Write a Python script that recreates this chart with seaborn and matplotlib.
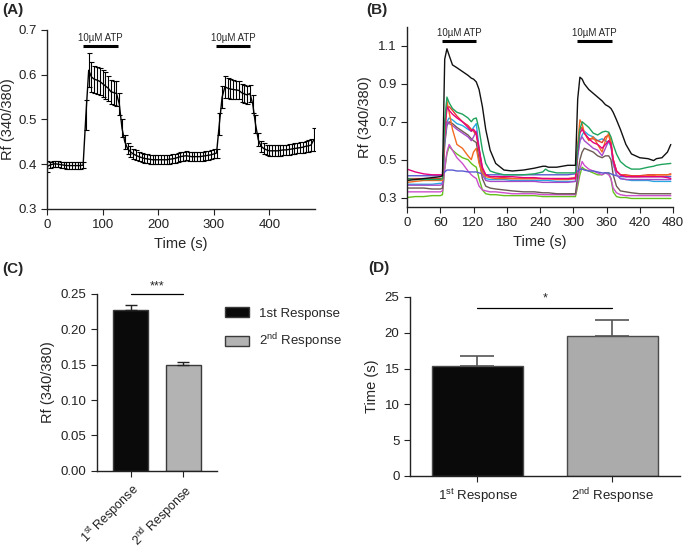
"""
Calcium imaging summary figure (Fura-2 ratio, two ATP applications)

A: mean +/- SEM ratio trace
B: single-cell traces
C: response amplitude (1st vs 2nd)
D: time to peak (1st vs 2nd)
"""

import numpy as np
import pandas as pd
import seaborn as sns
import matplotlib.pyplot as plt
from matplotlib.patches import Patch


# ---------------------------------------------------------------------
# Data
# ---------------------------------------------------------------------
# (A) mean trace, sampled every 5 s
time_a = np.arange(0, 481, 5)
mean_a = [
    0.395, 0.398, 0.400, 0.401, 0.400, 0.399, 0.398, 0.397, 0.397, 0.397,  # 0-45
    0.397, 0.397, 0.397, 0.398, 0.510, 0.610, 0.595, 0.590, 0.588, 0.585,  # 50-95
    0.580, 0.575, 0.570, 0.562, 0.560, 0.558, 0.535, 0.480, 0.450, 0.435,  # 100-145
    0.428, 0.423, 0.420, 0.417, 0.415, 0.413, 0.412, 0.411, 0.410, 0.410,  # 150-195
    0.410, 0.410, 0.410, 0.410, 0.411, 0.412, 0.413, 0.415, 0.417, 0.418,  # 200-245
    0.419, 0.418, 0.417, 0.417, 0.417, 0.417, 0.418, 0.419, 0.420, 0.421,  # 250-295
    0.423, 0.425, 0.490, 0.550, 0.573, 0.570, 0.568, 0.567, 0.566, 0.565,  # 300-345
    0.560, 0.557, 0.555, 0.558, 0.535, 0.490, 0.455, 0.440, 0.435, 0.432,  # 350-395
    0.430, 0.430, 0.430, 0.430, 0.431, 0.432, 0.432, 0.433, 0.434, 0.435,  # 400-445
    0.436, 0.437, 0.438, 0.440, 0.441, 0.443, 0.455,                       # 450-480
]
sem_a = [
    0.012, 0.007, 0.007, 0.007, 0.007, 0.007, 0.007, 0.007, 0.007, 0.007,
    0.007, 0.007, 0.007, 0.007, 0.033, 0.038, 0.033, 0.030, 0.030, 0.030,
    0.030, 0.030, 0.028, 0.027, 0.027, 0.027, 0.025, 0.020, 0.015, 0.013,
    0.012, 0.011, 0.011, 0.010, 0.010, 0.010, 0.010, 0.010, 0.010, 0.010,
    0.010, 0.010, 0.010, 0.010, 0.010, 0.010, 0.010, 0.010, 0.010, 0.010,
    0.010, 0.010, 0.010, 0.010, 0.010, 0.010, 0.010, 0.010, 0.010, 0.010,
    0.010, 0.010, 0.025, 0.025, 0.025, 0.022, 0.022, 0.022, 0.020, 0.020,
    0.020, 0.020, 0.020, 0.020, 0.020, 0.020, 0.015, 0.012, 0.012, 0.012,
    0.012, 0.012, 0.012, 0.012, 0.012, 0.012, 0.012, 0.012, 0.012, 0.012,
    0.012, 0.012, 0.012, 0.012, 0.013, 0.013, 0.025,
]

# ATP application windows (s)
atp_a = [(65, 127), (304, 365)]
atp_b = [(63, 125), (307, 369)]

# (B) single cells
time_b = [
    0, 15, 30, 45, 60,
    64, 68, 72, 76, 82, 90, 100, 110, 116, 120, 125,
    130, 136, 142, 150, 160, 175,
    190, 210, 230, 245, 250, 255, 270, 290, 304,
    308, 312, 316, 320, 328, 336, 344, 352, 358, 364, 368,
    372, 378, 385, 395, 405,
    420, 435, 445, 450, 460, 470, 476,
]
cell_black = [
    0.39, 0.395, 0.40, 0.405, 0.41,
    0.415, 1.03, 1.085, 1.05, 1.0, 0.985, 0.965, 0.945, 0.93, 0.925, 0.91,
    0.87, 0.78, 0.66, 0.55, 0.48, 0.445,
    0.44, 0.445, 0.455, 0.465, 0.465, 0.46, 0.46, 0.47, 0.47,
    0.82, 0.935, 0.925, 0.90, 0.87, 0.85, 0.83, 0.81, 0.79, 0.78, 0.77,
    0.75, 0.71, 0.66, 0.58, 0.53,
    0.51, 0.505, 0.495, 0.505, 0.51, 0.54, 0.58,
]
cell_green = [
    0.40, 0.395, 0.395, 0.395, 0.395,
    0.40, 0.70, 0.83, 0.80, 0.77, 0.75, 0.74, 0.72, 0.70, 0.715, 0.72,
    0.66, 0.55, 0.48, 0.44, 0.43, 0.42,
    0.42, 0.42, 0.425, 0.435, 0.45, 0.44, 0.43, 0.43, 0.43,
    0.56, 0.66, 0.70, 0.69, 0.67, 0.64, 0.63, 0.645, 0.65, 0.645, 0.62,
    0.58, 0.53, 0.49, 0.465, 0.45,
    0.45, 0.46, 0.465, 0.47, 0.475, 0.478, 0.48,
]
cell_orange = [
    0.38, 0.385, 0.39, 0.39, 0.39,
    0.39, 0.65, 0.81, 0.75, 0.66, 0.58, 0.56, 0.52, 0.50, 0.54, 0.56,
    0.48, 0.43, 0.41, 0.405, 0.40, 0.40,
    0.40, 0.40, 0.40, 0.40, 0.40, 0.40, 0.395, 0.395, 0.40,
    0.58, 0.71, 0.69, 0.64, 0.60, 0.62, 0.58, 0.54, 0.60, 0.64, 0.60,
    0.50, 0.44, 0.42, 0.415, 0.41,
    0.41, 0.415, 0.415, 0.42, 0.42, 0.42, 0.42,
]
cell_pink = [
    0.45, 0.435, 0.425, 0.42, 0.42,
    0.42, 0.66, 0.78, 0.76, 0.74, 0.72, 0.70, 0.67, 0.65, 0.66, 0.64,
    0.56, 0.46, 0.42, 0.41, 0.41, 0.41,
    0.41, 0.405, 0.405, 0.40, 0.40, 0.40, 0.40, 0.40, 0.40,
    0.55, 0.64, 0.66, 0.64, 0.61, 0.59, 0.58, 0.56, 0.58, 0.60, 0.58,
    0.50, 0.44, 0.42, 0.41, 0.41,
    0.41, 0.41, 0.41, 0.41, 0.41, 0.405, 0.40,
]
cell_cyan = [
    0.37, 0.37, 0.37, 0.37, 0.375,
    0.375, 0.60, 0.70, 0.72, 0.71, 0.69, 0.68, 0.66, 0.65, 0.67, 0.69,
    0.56, 0.44, 0.40, 0.395, 0.395, 0.395,
    0.39, 0.39, 0.39, 0.39, 0.39, 0.39, 0.385, 0.385, 0.385,
    0.52, 0.60, 0.63, 0.65, 0.63, 0.62, 0.60, 0.61, 0.60, 0.59, 0.57,
    0.48, 0.42, 0.40, 0.395, 0.39,
    0.39, 0.39, 0.385, 0.385, 0.385, 0.385, 0.385,
]
cell_brown = [
    0.35, 0.35, 0.35, 0.345, 0.345,
    0.35, 0.58, 0.68, 0.70, 0.69, 0.67, 0.65, 0.63, 0.61, 0.60, 0.59,
    0.50, 0.40, 0.36, 0.35, 0.345, 0.34,
    0.335, 0.33, 0.33, 0.325, 0.325, 0.325, 0.32, 0.32, 0.32,
    0.42, 0.50, 0.54, 0.56, 0.55, 0.54, 0.52, 0.51, 0.52, 0.52, 0.50,
    0.42, 0.36, 0.335, 0.33, 0.325,
    0.32, 0.32, 0.32, 0.32, 0.32, 0.32, 0.32,
]
cell_purple = [
    0.365, 0.365, 0.365, 0.365, 0.365,
    0.37, 0.60, 0.70, 0.69, 0.68, 0.66, 0.64, 0.62, 0.60, 0.62, 0.65,
    0.54, 0.42, 0.39, 0.385, 0.385, 0.385,
    0.385, 0.385, 0.385, 0.38, 0.38, 0.38, 0.38, 0.38, 0.385,
    0.52, 0.60, 0.62, 0.60, 0.58, 0.56, 0.55, 0.52, 0.56, 0.60, 0.59,
    0.48, 0.42, 0.40, 0.395, 0.395,
    0.395, 0.395, 0.395, 0.395, 0.395, 0.395, 0.395,
]
cell_violet = [
    0.33, 0.33, 0.33, 0.33, 0.33,
    0.335, 0.45, 0.54, 0.58, 0.55, 0.51, 0.48, 0.44, 0.42, 0.41, 0.40,
    0.36, 0.34, 0.335, 0.33, 0.33, 0.325,
    0.32, 0.32, 0.32, 0.315, 0.315, 0.315, 0.315, 0.315, 0.315,
    0.38, 0.45, 0.49, 0.47, 0.45, 0.44, 0.43, 0.42, 0.43, 0.42, 0.40,
    0.35, 0.325, 0.315, 0.31, 0.31,
    0.31, 0.31, 0.31, 0.31, 0.31, 0.31, 0.31,
]
cell_lime = [
    0.30, 0.305, 0.305, 0.31, 0.31,
    0.315, 0.45, 0.53, 0.57, 0.55, 0.53, 0.51, 0.50, 0.48, 0.47, 0.46,
    0.40, 0.34, 0.32, 0.315, 0.315, 0.31,
    0.31, 0.31, 0.31, 0.305, 0.305, 0.305, 0.305, 0.305, 0.305,
    0.36, 0.42, 0.46, 0.45, 0.44, 0.43, 0.42, 0.42, 0.43, 0.43, 0.40,
    0.33, 0.305, 0.30, 0.30, 0.295,
    0.295, 0.295, 0.295, 0.295, 0.295, 0.295, 0.295,
]
cell_indigo = [
    0.415, 0.415, 0.415, 0.415, 0.415,
    0.42, 0.435, 0.445, 0.445, 0.445, 0.44, 0.44, 0.435, 0.435, 0.435, 0.435,
    0.43, 0.425, 0.42, 0.42, 0.42, 0.42,
    0.42, 0.42, 0.42, 0.42, 0.42, 0.42, 0.42, 0.42, 0.425,
    0.44, 0.45, 0.45, 0.445, 0.44, 0.44, 0.435, 0.43, 0.43, 0.43, 0.425,
    0.42, 0.415, 0.41, 0.41, 0.41,
    0.41, 0.41, 0.41, 0.41, 0.41, 0.41, 0.41,
]
cell_red = [
    0.40, 0.40, 0.40, 0.40, 0.40,
    0.40, 0.65, 0.77, 0.78, 0.76, 0.73, 0.70, 0.68, 0.66, 0.65, 0.63,
    0.55, 0.45, 0.42, 0.41, 0.41, 0.405,
    0.40, 0.40, 0.40, 0.40, 0.40, 0.40, 0.40, 0.40, 0.405,
    0.56, 0.66, 0.67, 0.64, 0.61, 0.61, 0.60, 0.59, 0.62, 0.63, 0.58,
    0.50, 0.44, 0.42, 0.42, 0.415,
    0.415, 0.42, 0.42, 0.42, 0.42, 0.42, 0.425,
]

# (C) amplitude and (D) time to peak
responses = ["1st Response", "2nd Response"]
amp_mean = [0.227, 0.149]
amp_sem = [0.007, 0.0055]
ttp_mean = [15.3, 19.5]
ttp_sem = [1.45, 2.33]

CELL_COLORS = {
    "black": "#111111", "green": "#1fa35c", "orange": "#f26a21",
    "pink": "#e6007e", "cyan": "#27a9e1", "brown": "#6b5a52",
    "purple": "#a64ac9", "violet": "#cc4fcc", "lime": "#63c11c",
    "indigo": "#5a5ad2", "red": "#e53a2e",
}
BAR_COLORS = ["#0a0a0a", "#b3b3b3"]


# ---------------------------------------------------------------------
# Style
# ---------------------------------------------------------------------
sns.set_style("ticks")
plt.rcParams.update({
    "font.family": ["Liberation Sans", "DejaVu Sans"],
    "mathtext.fontset": "custom",
    "mathtext.rm": "Liberation Sans",
    "mathtext.it": "Liberation Sans:italic",
    "font.size": 9.5,
    "axes.labelsize": 10.5,
    "xtick.labelsize": 9.5,
    "ytick.labelsize": 9.5,
    "axes.linewidth": 1.0,
    "axes.edgecolor": "#222222",
    "xtick.color": "#222222",
    "ytick.color": "#222222",
    "xtick.major.size": 4,
    "ytick.major.size": 4,
})


def add_atp_bars(ax, windows, y_bar, y_text):
    for start, stop in windows:
        ax.plot([start, stop], [y_bar, y_bar], color="black", lw=2.2,
                solid_capstyle="butt", clip_on=False)
        ax.text((start + stop) / 2, y_text, "10\u00b5M ATP", ha="center",
                va="bottom", fontsize=7)


def despine(ax):
    sns.despine(ax=ax)


fig = plt.figure(figsize=(6.85, 5.52), dpi=100)
ax_a = fig.add_axes([0.0686, 0.6214, 0.3912, 0.3243])
ax_b = fig.add_axes([0.5942, 0.6250, 0.3883, 0.3261])
ax_c = fig.add_axes([0.1416, 0.1470, 0.1752, 0.3204])
ax_d = fig.add_axes([0.5985, 0.1377, 0.3942, 0.3243])

# ---------------------------------------------------------------------
# (A) mean +/- SEM
# ---------------------------------------------------------------------
df_a = pd.DataFrame({"Time (s)": time_a, "Rf": mean_a})
ax_a.errorbar(time_a, mean_a, yerr=sem_a, fmt="none", ecolor="black",
              elinewidth=0.8, capsize=1.8, capthick=0.8)
sns.lineplot(data=df_a, x="Time (s)", y="Rf", ax=ax_a, color="black", lw=1.0)
ax_a.set_xlim(0, 482)
ax_a.set_ylim(0.3, 0.7)
ax_a.set_xticks([0, 100, 200, 300, 400])
ax_a.set_yticks([0.3, 0.4, 0.5, 0.6, 0.7])
ax_a.set_ylabel("Rf (340/380)", labelpad=2)
ax_a.set_xlabel("Time (s)")
add_atp_bars(ax_a, atp_a, 0.664, 0.672)
despine(ax_a)

# ---------------------------------------------------------------------
# (B) individual cells
# ---------------------------------------------------------------------
cells = {
    "black": cell_black, "green": cell_green, "orange": cell_orange,
    "pink": cell_pink, "cyan": cell_cyan, "brown": cell_brown,
    "purple": cell_purple, "violet": cell_violet, "lime": cell_lime,
    "indigo": cell_indigo, "red": cell_red,
}
df_b = pd.concat(
    [pd.DataFrame({"Time (s)": time_b, "Rf": vals, "cell": name})
     for name, vals in cells.items()],
    ignore_index=True,
)
draw_order = ["lime", "violet", "brown", "indigo", "cyan", "purple",
              "red", "orange", "pink", "green", "black"]
sns.lineplot(data=df_b, x="Time (s)", y="Rf", hue="cell",
             hue_order=draw_order, palette=CELL_COLORS, lw=1.0,
             legend=False, ax=ax_b, estimator=None)
ax_b.set_xlim(0, 480)
ax_b.set_ylim(0.25, 1.2)
ax_b.set_xticks(range(0, 481, 60))
ax_b.set_yticks([0.3, 0.5, 0.7, 0.9, 1.1])
ax_b.set_ylabel("Rf (340/380)")
ax_b.set_xlabel("Time (s)")
add_atp_bars(ax_b, atp_b, 1.128, 1.14)
despine(ax_b)

# ---------------------------------------------------------------------
# (C) amplitude
# ---------------------------------------------------------------------
df_c = pd.DataFrame({"resp": responses, "amp": amp_mean})
sns.barplot(data=df_c, x="resp", y="amp", hue="resp", palette=BAR_COLORS,
            width=0.67, edgecolor="#3a3a3a", linewidth=1.0, legend=False,
            ax=ax_c)
ax_c.errorbar([0, 1], amp_mean, yerr=[[0, 0], amp_sem], fmt="none",
              ecolor="#222222", elinewidth=1.0, capsize=4, capthick=1.0)
ax_c.set_xlim(-0.65, 1.65)
ax_c.set_ylim(0, 0.25)
ax_c.set_yticks([0.0, 0.05, 0.10, 0.15, 0.20, 0.25])
ax_c.yaxis.set_major_formatter(plt.FormatStrFormatter("%.2f"))
ax_c.set_xticks([0, 1], labels=["1$^{\\mathrm{st}}$ Response",
                                "2$^{\\mathrm{nd}}$ Response"],
                rotation=45, ha="right", rotation_mode="anchor", fontsize=9)
ax_c.set_xlabel("")
ax_c.set_ylabel("Rf (340/380)")
ax_c.plot([0, 1], [0.25, 0.25], color="black", lw=0.9, clip_on=False)
ax_c.text(0.5, 0.252, "***", ha="center", va="bottom", fontsize=9)
handles = [
    Patch(facecolor=BAR_COLORS[0], edgecolor="#3a3a3a", label="1st Response"),
    Patch(facecolor=BAR_COLORS[1], edgecolor="#3a3a3a",
          label="2$^{\\mathrm{nd}}$ Response"),
]
ax_c.legend(handles=handles, loc="upper left", bbox_to_anchor=(1.0, 0.97),
            frameon=False, fontsize=9.5, handlelength=1.8, handleheight=0.8,
            labelspacing=0.9, borderaxespad=0.2)
despine(ax_c)

# ---------------------------------------------------------------------
# (D) time to peak
# ---------------------------------------------------------------------
df_d = pd.DataFrame({"resp": responses, "ttp": ttp_mean})
sns.barplot(data=df_d, x="resp", y="ttp", hue="resp",
            palette=["#0a0a0a", "#ababab"], width=0.67, edgecolor="#4a4a4a",
            linewidth=1.0, legend=False, ax=ax_d)
ax_d.errorbar([0, 1], ttp_mean, yerr=[[0, 0], ttp_sem], fmt="none",
              ecolor="#555555", elinewidth=1.2, capsize=12, capthick=1.2)
ax_d.set_xlim(-0.5, 1.5)
ax_d.set_ylim(0, 25)
ax_d.set_yticks([0, 5, 10, 15, 20, 25])
ax_d.set_xticks([0, 1], labels=["1$^{\\mathrm{st}}$ Response",
                                "2$^{\\mathrm{nd}}$ Response"])
ax_d.set_xlabel("")
ax_d.set_ylabel("Time (s)")
ax_d.plot([0, 1], [23.5, 23.5], color="black", lw=0.9)
ax_d.text(0.5, 24.0, "*", ha="center", va="bottom", fontsize=9)
despine(ax_d)

# panel letters
for x, y, lab in [(0.004, 0.982, "(A)"), (0.534, 0.982, "(B)"),
                  (0.004, 0.512, "(C)"), (0.538, 0.515, "(D)")]:
    fig.text(x, y, lab, fontsize=11, fontweight="bold", va="center")

fig.savefig("out.png", dpi=100)
